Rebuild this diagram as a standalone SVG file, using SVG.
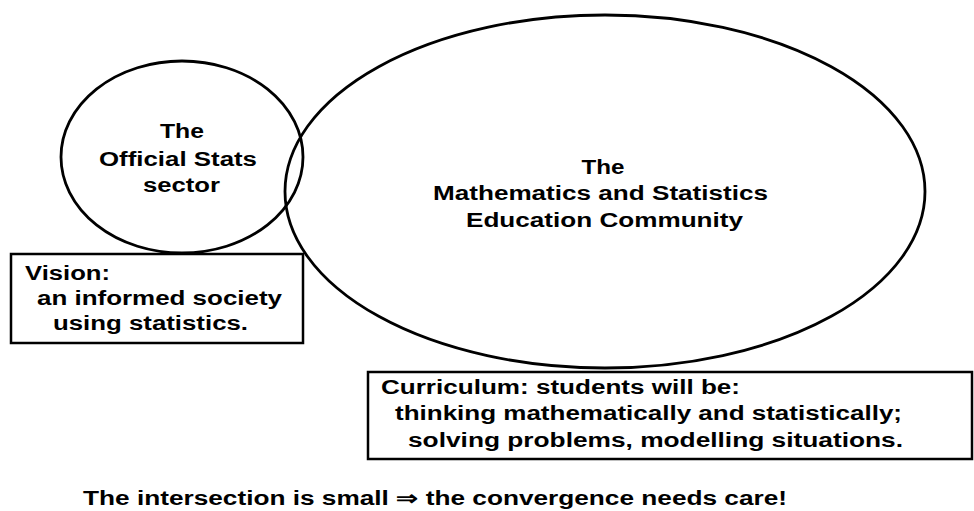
<svg xmlns="http://www.w3.org/2000/svg" width="974" height="511" viewBox="0 0 974 511">
  <style>
    .shape { fill: none; stroke: #000; stroke-width: 2.8; }
    .box { fill: none; stroke: #000; stroke-width: 2.5; }
    .lbl { font-family: "Liberation Sans", Arial, sans-serif; font-weight: bold; font-size: 20px; fill: #000; }
  </style>
  <rect x="0" y="0" width="974" height="511" fill="#fff"/>

  <!-- Official statistics sector -->
  <g id="official-stats">
    <ellipse class="shape" cx="182" cy="157" rx="121" ry="96"/>
    <text class="lbl" x="182" y="138" text-anchor="middle" textLength="44" lengthAdjust="spacingAndGlyphs">The</text>
    <text class="lbl" x="178" y="166" text-anchor="middle" textLength="158" lengthAdjust="spacingAndGlyphs">Official Stats</text>
    <text class="lbl" x="181.5" y="192" text-anchor="middle" textLength="77" lengthAdjust="spacingAndGlyphs">sector</text>
  </g>

  <!-- Mathematics and statistics education community -->
  <g id="education-community">
    <ellipse class="shape" cx="605" cy="191.5" rx="320" ry="176.5"/>
    <text class="lbl" x="603" y="174" text-anchor="middle" textLength="43" lengthAdjust="spacingAndGlyphs">The</text>
    <text class="lbl" x="600.5" y="200" text-anchor="middle" textLength="335" lengthAdjust="spacingAndGlyphs">Mathematics and Statistics</text>
    <text class="lbl" x="604.5" y="227" text-anchor="middle" textLength="277" lengthAdjust="spacingAndGlyphs">Education Community</text>
  </g>

  <!-- Vision statement -->
  <g id="vision">
    <rect class="box" x="11" y="254" width="292" height="89"/>
    <text class="lbl" x="25" y="280" textLength="85" lengthAdjust="spacingAndGlyphs">Vision:</text>
    <text class="lbl" x="37" y="305" textLength="245" lengthAdjust="spacingAndGlyphs">an informed society</text>
    <text class="lbl" x="53" y="330" textLength="195" lengthAdjust="spacingAndGlyphs">using statistics.</text>
  </g>

  <!-- Curriculum statement -->
  <g id="curriculum">
    <rect class="box" x="368" y="372" width="604" height="87"/>
    <text class="lbl" x="381" y="394" textLength="359" lengthAdjust="spacingAndGlyphs">Curriculum: students will be:</text>
    <text class="lbl" x="395" y="420" textLength="507" lengthAdjust="spacingAndGlyphs">thinking mathematically and statistically;</text>
    <text class="lbl" x="408" y="447" textLength="495" lengthAdjust="spacingAndGlyphs">solving problems, modelling situations.</text>
  </g>

  <g id="connectors"></g>

  <!-- Conclusion -->
  <text class="lbl" x="83" y="505" textLength="704" lengthAdjust="spacingAndGlyphs">The intersection is small ⇒ the convergence needs care!</text>
</svg>
